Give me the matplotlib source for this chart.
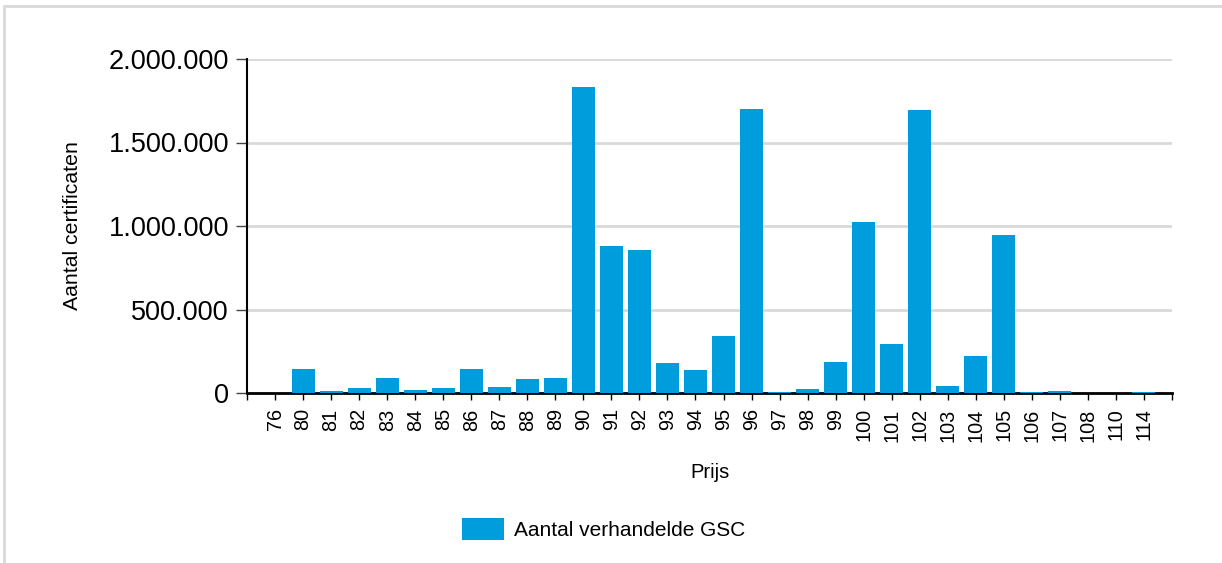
import matplotlib.pyplot as plt
from matplotlib.patches import Rectangle
from matplotlib.ticker import FuncFormatter

prijzen = ['76', '80', '81', '82', '83', '84', '85', '86', '87', '88', '89',
           '90', '91', '92', '93', '94', '95', '96', '97', '98', '99', '100',
           '101', '102', '103', '104', '105', '106', '107', '108', '110', '114']
aantal = [1000, 144000, 12000, 30000, 90000, 18000, 30000, 144000, 36000,
          84000, 90000, 1832000, 880000, 856000, 180000, 138000, 341000,
          1700000, 5000, 24000, 186000, 1024000, 293000, 1695000, 42000,
          222000, 946000, 4000, 12000, 2000, 1000, 8000]
y_ticks = [0, 500000, 1000000, 1500000, 2000000]

plt.rcParams['font.family'] = ['Liberation Sans', 'DejaVu Sans']

fig = plt.figure(figsize=(12.22, 5.63), dpi=100)
fig.patches.append(Rectangle((4 / 1222, -0.1), 1.2, 1.1 - 6 / 563,
                             transform=fig.transFigure, fill=False,
                             edgecolor='#d9d9d9', linewidth=2))
ax = fig.add_axes([247 / 1222, 1 - 393 / 563, 925 / 1222, 334 / 563])

n = len(prijzen)
x = range(n)
ax.bar(x, aantal, width=0.82, color='#009ddc', label='Aantal verhandelde GSC', zorder=3)

ax.set_xlim(-1, n)
ax.set_ylim(0, 2000000)
ax.set_yticks(y_ticks)
ax.yaxis.set_major_formatter(FuncFormatter(lambda v, p: f'{int(v):,}'.replace(',', '.')))
ax.tick_params(axis='y', labelsize=19.5, length=8, width=1, color='#444444', pad=5)
ax.grid(axis='y', color='#d9d9d9', linewidth=2, zorder=0)

# a tick under every bar plus one at each end of the axis
ax.set_xticks(list(range(-1, n + 1)))
ax.set_xticklabels([''] + prijzen + [''], rotation=90, fontsize=14.3)
ax.tick_params(axis='x', length=5, width=1, pad=6)

for s in ['top', 'right']:
    ax.spines[s].set_visible(False)
ax.spines['left'].set_linewidth(1.5)
ax.spines['bottom'].set_linewidth(2)

ax.set_ylabel('Aantal certificaten', fontsize=15.3, va='center')
ax.yaxis.set_label_coords((73 - 247) / 925, 0.5)
ax.set_xlabel('Prijs', fontsize=14.5, va='center')
ax.xaxis.set_label_coords(0.5, (393 - 473) / 334)

fig.legend(loc='center', bbox_to_anchor=(604 / 1222, 1 - 529 / 563), frameon=False,
           fontsize=15, handlelength=2.0, handleheight=1.2, handletextpad=0.5)

fig.savefig('out.png', dpi=100)
